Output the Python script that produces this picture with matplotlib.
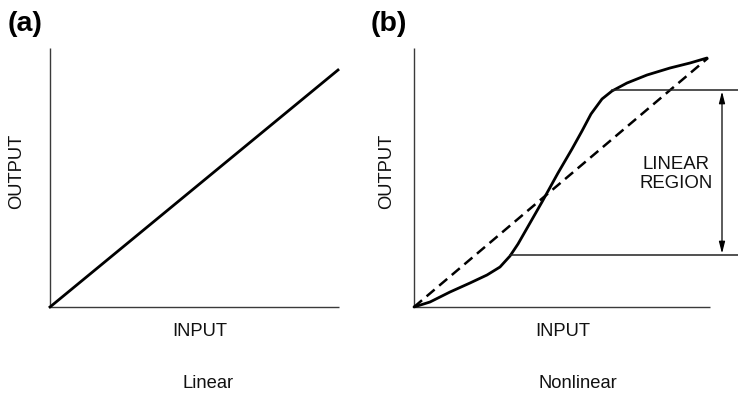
import matplotlib
matplotlib.use("Agg")
import matplotlib.pyplot as plt

plt.rcParams['font.family'] = ['Liberation Sans', 'DejaVu Sans']

W, H = 738, 396

# Panel (a): linear response (units: input / output, arbitrary)
lin_input = [0, 288]
lin_output = [0, 237]
a_axis_len = (289, 259)

# Panel (b): nonlinear response
nl_input = [0, 16, 36, 56, 73, 86, 96, 104, 112, 128, 144, 158, 168, 177,
            188, 198, 213, 233, 256, 276, 293]
nl_output = [0, 5, 15, 24, 32, 40, 51, 63, 77, 105, 134, 158, 176, 193,
             208, 216, 224, 232, 239, 244, 249]
ref_input = [0, 294]
ref_output = [0, 249]
b_axis_len = (296, 259)
region_low = 52      # output level where the linear region starts
region_high = 217    # output level where the linear region ends
region_low_x = 96
region_high_x = 198
b_xmax = 324
arrow_x = 308

fig = plt.figure(figsize=(W / 100, H / 100), dpi=100)


def px_axes(x0, y0, x1, y1):
    return fig.add_axes([x0 / W, 1 - y1 / H, (x1 - x0) / W, (y1 - y0) / H])


axis_kw = dict(color='#3a3a3a', lw=1.0, solid_capstyle='butt')

# ---- Panel (a)
axa = px_axes(50, 48, 339, 307)
axa.set_xlim(0, a_axis_len[0])
axa.set_ylim(0, a_axis_len[1])
axa.set_axis_off()
axa.plot([0, 0], [0, a_axis_len[1]], **axis_kw, clip_on=False)
axa.plot([0, a_axis_len[0]], [0, 0], **axis_kw, clip_on=False)
axa.plot(lin_input, lin_output, color='black', lw=2.0, clip_on=False)

# ---- Panel (b)
axb = px_axes(414, 48, 738, 307)
axb.set_xlim(0, b_xmax)
axb.set_ylim(0, b_axis_len[1])
axb.set_axis_off()
axb.plot([0, 0], [0, b_axis_len[1]], **axis_kw, clip_on=False)
axb.plot([0, b_axis_len[0]], [0, 0], **axis_kw, clip_on=False)
axb.plot(ref_input, ref_output, color='black', lw=1.8, dashes=(4.2, 2.4),
         clip_on=False)
axb.plot(nl_input, nl_output, color='black', lw=2.0, clip_on=False,
         solid_joinstyle='round', solid_capstyle='round')
axb.plot([region_low_x, b_xmax], [region_low, region_low], color='#222222',
         lw=1.1, clip_on=False)
axb.plot([region_high_x, b_xmax], [region_high, region_high], color='#222222',
         lw=1.1, clip_on=False)
axb.annotate('', xy=(arrow_x, region_high - 1.5), xytext=(arrow_x, region_low + 1.5),
             arrowprops=dict(arrowstyle='<|-|>,head_width=0.18,head_length=0.7',
                             lw=0.9, color='black', shrinkA=0, shrinkB=0))


def ftext(x, y, s, **kw):
    fig.text(x / W, 1 - y / H, s, **kw)


ftext(8, 24, '(a)', fontsize=20.5, fontweight='bold', ha='left', va='center')
ftext(371, 24, '(b)', fontsize=20.5, fontweight='bold', ha='left', va='center')

lab = dict(fontsize=13.2, color='#111111')
ftext(17, 171, 'OUTPUT', rotation=90, ha='center', va='center', **lab)
ftext(387, 171, 'OUTPUT', rotation=90, ha='center', va='center', **lab)
ftext(200, 331.5, 'INPUT', ha='center', va='center', **lab)
ftext(563, 331.5, 'INPUT', ha='center', va='center', **lab)
ftext(208, 384, 'Linear', ha='center', va='center', **lab)
ftext(578, 384, 'Nonlinear', ha='center', va='center', **lab)
ftext(676, 174, 'LINEAR\nREGION', fontsize=13.4, color='#111111', ha='center',
      va='center', multialignment='center', linespacing=1.2)

fig.savefig('out.png', dpi=100)
